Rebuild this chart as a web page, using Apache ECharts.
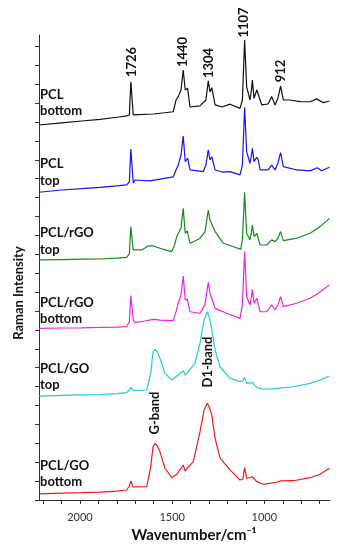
<!DOCTYPE html>
<html><head><meta charset="utf-8">
<script src="https://cdn.jsdelivr.net/npm/echarts@6/dist/echarts.min.js"></script>
<style>html,body{margin:0;padding:0;background:#fff}#c{width:343px;height:550px}</style>
</head><body><div id="c"></div>
<script>
// ---- data ----
const seriesNames = ['PCL bottom', 'PCL top', 'PCL/rGO top', 'PCL/rGO bottom', 'PCL/GO top', 'PCL/GO bottom'];
const labelLine1 = ['PCL', 'PCL', 'PCL/rGO', 'PCL/rGO', 'PCL/GO', 'PCL/GO'];
const labelLine2 = ['bottom', 'top', 'top', 'bottom', 'top', 'bottom'];
const seriesColors = ['#111111', '#1414ee', '#168a16', '#ea22ea', '#20cccc', '#f01a1a'];

const xTickValues = [2200, 2100, 2000, 1900, 1800, 1700, 1600, 1500, 1400, 1300, 1200, 1100, 1000, 900, 800, 700];
const xLabelValues = [2000, 1500, 1000];
const yTickValues = [0,1,2,3,4,5,6,7,8,9,10,11,12,13,14,15,16,17,18,19,20,21,22,23,24];

const peakNames = ['1726', '1440', '1304', '1107', '912'];
const bandNames = ['D1-band', 'G-band'];

const pclBottom = [[2222,19.84],[2100,19.95],[1990,20.05],[1891,20.14],[1800,20.25],[1747,20.32],[1732,20.37],[1724,22.13],[1711,20.37],[1702,20.32],[1600,20.42],[1494,20.54],[1479,21.16],[1467,21.34],[1452,21.69],[1440,22.75],[1429,21.69],[1416,21.78],[1403,20.79],[1349,20.85],[1317,21.16],[1304,22.17],[1295,21.59],[1285,21.81],[1267,20.90],[1229,20.79],[1186,20.94],[1132,20.72],[1119,21.16],[1107,24.34],[1096,21.87],[1078,21.16],[1070,21.69],[1065,22.22],[1056,21.25],[1041,21.69],[1033,21.59],[1014,20.90],[980,20.95],[960,21.34],[942,20.90],[926,21.27],[912,21.90],[897,21.16],[861,21.16],[806,21.08],[752,21.07],[716,21.22],[680,21.02],[647,21.11]];

const pclTop = [[2222,16.28],[2100,16.40],[1990,16.47],[1891,16.54],[1800,16.62],[1747,16.67],[1732,16.83],[1724,18.57],[1711,16.77],[1702,16.93],[1620,16.88],[1494,17.09],[1479,17.46],[1467,17.72],[1452,18.25],[1440,19.26],[1429,17.90],[1416,18.08],[1403,17.46],[1331,17.37],[1317,17.72],[1304,18.52],[1295,17.99],[1285,18.16],[1267,17.46],[1229,17.35],[1186,17.37],[1132,17.20],[1119,17.72],[1107,20.78],[1096,18.43],[1078,17.81],[1070,18.25],[1065,18.61],[1056,17.90],[1041,18.13],[1033,17.99],[1023,17.46],[980,17.46],[960,17.72],[942,17.46],[926,17.83],[912,18.38],[897,17.64],[824,17.46],[752,17.41],[713,17.58],[689,17.42],[647,17.60]];

const rgoTop = [[2222,12.70],[2100,12.72],[1990,12.74],[1891,12.75],[1800,12.80],[1747,12.84],[1732,13.02],[1724,14.46],[1711,13.23],[1702,13.14],[1664,13.23],[1631,13.44],[1602,13.44],[1566,13.32],[1539,13.23],[1502,13.14],[1487,13.49],[1475,13.93],[1467,13.86],[1452,14.39],[1440,15.43],[1429,14.11],[1418,14.23],[1403,13.58],[1376,13.70],[1349,13.85],[1322,14.18],[1304,15.34],[1295,14.81],[1285,14.81],[1267,14.20],[1222,13.58],[1159,13.37],[1128,13.26],[1119,13.76],[1107,16.26],[1096,14.11],[1078,13.76],[1070,14.18],[1065,14.55],[1056,13.93],[1041,14.11],[1023,13.49],[987,13.49],[960,13.76],[942,13.67],[926,13.86],[912,14.20],[897,13.72],[824,13.85],[752,14.11],[698,14.46],[647,14.90]];

const rgoBottom = [[2222,9.08],[2100,9.10],[1990,9.11],[1891,9.13],[1800,9.15],[1747,9.17],[1732,9.42],[1724,10.81],[1711,9.52],[1702,9.38],[1648,9.47],[1602,9.56],[1566,9.52],[1494,9.49],[1479,9.95],[1467,10.41],[1452,10.85],[1440,11.85],[1429,10.58],[1418,10.62],[1403,9.96],[1349,9.88],[1322,10.32],[1304,11.52],[1295,10.95],[1285,10.97],[1267,10.14],[1204,9.88],[1132,9.61],[1119,10.32],[1107,13.14],[1096,10.76],[1078,10.32],[1070,10.74],[1065,11.15],[1056,10.41],[1041,10.67],[1023,9.96],[987,9.96],[960,10.32],[942,10.05],[926,10.32],[912,10.76],[897,10.23],[824,10.41],[752,10.67],[707,10.94],[647,11.38]];

const goTop = [[2222,5.50],[2100,5.53],[1990,5.56],[1891,5.58],[1800,5.63],[1747,5.68],[1732,5.82],[1724,5.96],[1711,5.79],[1702,5.73],[1638,5.82],[1616,6.70],[1604,7.83],[1593,7.97],[1580,7.83],[1566,7.50],[1539,6.70],[1502,6.35],[1467,6.61],[1440,6.84],[1429,6.61],[1418,6.74],[1376,7.23],[1349,8.29],[1327,9.52],[1309,9.96],[1297,9.63],[1285,8.99],[1267,7.94],[1240,7.05],[1186,6.44],[1132,6.26],[1116,6.30],[1107,6.49],[1096,6.17],[1065,6.21],[1041,5.96],[1005,5.86],[933,5.91],[843,5.99],[752,6.17],[698,6.35],[647,6.56]];

const goBottom = [[2222,0.32],[2100,0.36],[1990,0.39],[1891,0.42],[1800,0.47],[1747,0.53],[1732,0.74],[1724,1.01],[1711,0.69],[1702,0.62],[1638,0.70],[1616,1.76],[1604,2.80],[1593,3.00],[1580,2.86],[1566,2.56],[1539,1.68],[1502,1.18],[1475,1.36],[1440,1.85],[1429,1.53],[1418,1.68],[1385,2.03],[1349,3.61],[1327,4.76],[1309,5.12],[1297,4.87],[1285,4.50],[1267,3.26],[1240,2.21],[1186,1.59],[1132,1.06],[1116,1.11],[1107,1.71],[1096,1.15],[1078,1.19],[1065,1.23],[1041,0.97],[1005,0.83],[933,0.94],[912,1.01],[843,1.02],[752,1.18],[698,1.36],[647,1.68]];

const allData = [pclBottom, pclTop, rgoTop, rgoBottom, goTop, goBottom];

// ---- layout ----
const FONT = 'Lato';
const nameLine1Y = [95, 164, 233, 303, 369, 466];
const nameLine2Y = [111, 181, 250, 319, 385, 482];
const peakLabelPos = [[132, 62], [183, 52], [208.5, 63], [244, 22.5], [280.5, 71]];
const bandLabelPos = [[208, 362], [155, 413]];

const graphics = [];
for (let i = 0; i < seriesNames.length; i++) {
  graphics.push({type: 'text', x: 40, y: nameLine1Y[i], style: {text: labelLine1[i], fill: '#111', font: 'bold 13px ' + FONT, align: 'left', verticalAlign: 'middle'}});
  graphics.push({type: 'text', x: 40, y: nameLine2Y[i], style: {text: labelLine2[i], fill: '#111', font: 'bold 13px ' + FONT, align: 'left', verticalAlign: 'middle'}});
}
peakNames.forEach((t, i) => {
  graphics.push({type: 'text', x: peakLabelPos[i][0], y: peakLabelPos[i][1], rotation: Math.PI / 2, style: {text: t, fill: '#111', font: 'bold 13px ' + FONT, align: 'center', verticalAlign: 'middle'}});
});
bandNames.forEach((t, i) => {
  graphics.push({type: 'text', x: bandLabelPos[i][0], y: bandLabelPos[i][1], rotation: Math.PI / 2, style: {text: t, fill: '#111', font: 'bold 13px ' + FONT, align: 'center', verticalAlign: 'middle'}});
});
graphics.push({type: 'text', x: 19, y: 293, rotation: Math.PI / 2, style: {text: 'Raman Intensity', fill: '#111', font: 'bold 13px ' + FONT, align: 'center', verticalAlign: 'middle'}});
graphics.push({type: 'text', x: 194, y: 535, style: {text: 'Wavenumber/cm\u207B\u00B9', fill: '#111', font: 'bold 15px ' + FONT, align: 'center', verticalAlign: 'middle'}});

const chart = echarts.init(document.getElementById('c'), null, {renderer: 'canvas'});
chart.setOption({
  animation: false,
  backgroundColor: '#fff',
  grid: {left: 39, right: 13, top: 35, bottom: 50, containLabel: false},
  xAxis: {
    type: 'value', inverse: true, min: 644, max: 2222,
    axisLine: {show: true, lineStyle: {color: '#333', width: 1}},
    axisTick: {show: true, length: 4, customValues: xTickValues, lineStyle: {color: '#333'}},
    axisLabel: {show: true, customValues: xLabelValues, margin: 12, color: '#333', fontSize: 11, fontFamily: FONT, formatter: v => String(v)},
    splitLine: {show: false}
  },
  yAxis: {
    type: 'value', min: 0, max: 24.6,
    axisLine: {show: true, lineStyle: {color: '#333', width: 1}},
    axisTick: {show: true, length: 4, customValues: yTickValues, lineStyle: {color: '#333'}},
    axisLabel: {show: false},
    splitLine: {show: false}
  },
  series: allData.map((d, i) => ({
    name: seriesNames[i], type: 'line', data: d, symbol: 'none', smooth: false,
    lineStyle: {color: seriesColors[i], width: 1.2}, itemStyle: {color: seriesColors[i]}, z: 2
  })),
  graphic: graphics
});
</script></body></html>
